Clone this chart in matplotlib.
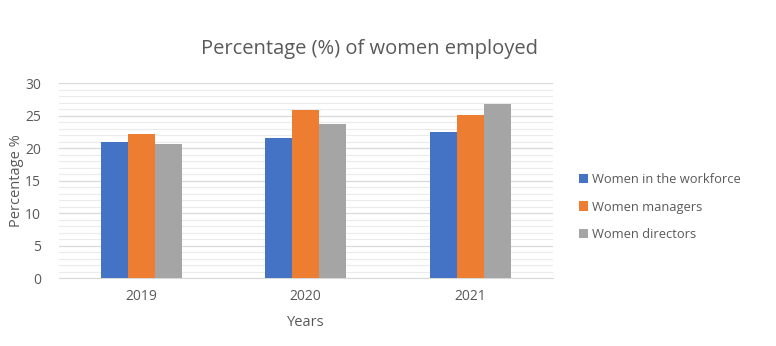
import matplotlib
matplotlib.use("Agg")
import matplotlib.pyplot as plt
import numpy as np
from matplotlib.ticker import MultipleLocator

years = ["2019", "2020", "2021"]
series_names = ["Women in the workforce", "Women managers", "Women directors"]
workforce = [21.0, 21.5, 22.4]
managers = [22.2, 25.8, 25.1]
directors = [20.6, 23.7, 26.7]
colors = ["#4472C4", "#ED7D31", "#A5A5A5"]

text_color = "#595959"
plt.rcParams["font.family"] = ["Open Sans", "DejaVu Sans"]

fig = plt.figure(figsize=(7.76, 3.46), dpi=100)
ax = fig.add_axes([0.076, 0.1965, 0.636, 0.5635])

x = np.arange(len(years))
width = 0.165
for i, (vals, name, col) in enumerate(zip([workforce, managers, directors], series_names, colors)):
    ax.bar(x + (i - 1) * width, vals, width, color=col, label=name, zorder=3)

ax.set_xlim(-0.5, len(years) - 0.5)
ax.set_ylim(0, 30)
ax.yaxis.set_major_locator(MultipleLocator(5))
ax.yaxis.set_minor_locator(MultipleLocator(1))
ax.grid(axis="y", which="major", color="#d9d9d9", linewidth=0.9, zorder=0)
ax.grid(axis="y", which="minor", color="#ebebeb", linewidth=0.8, zorder=0)
for side in ["top", "right", "left"]:
    ax.spines[side].set_visible(False)
ax.spines["bottom"].set_color("#d9d9d9")
ax.tick_params(axis="both", which="both", length=0, colors=text_color, labelsize=10)
ax.tick_params(axis="y", pad=13)
ax.tick_params(axis="x", pad=8)
ax.set_xticks(x)
ax.set_xticklabels(years)

ax.set_xlabel("Years", color=text_color, fontsize=10.5, labelpad=8)
ax.set_ylabel("Percentage %", color=text_color, fontsize=10.5, labelpad=1)
fig.text(0.476, 0.858, "Percentage (%) of women employed", ha="center", va="center",
         color=text_color, fontsize=14.5)

leg = ax.legend(loc="center left", bbox_to_anchor=(1.04, 0.364), frameon=False,
                fontsize=9.3, labelcolor=text_color, handlelength=0.7, handleheight=0.7,
                handletextpad=0.35, labelspacing=1.15, borderpad=0)

fig.savefig("out.png", dpi=100, facecolor="white")
